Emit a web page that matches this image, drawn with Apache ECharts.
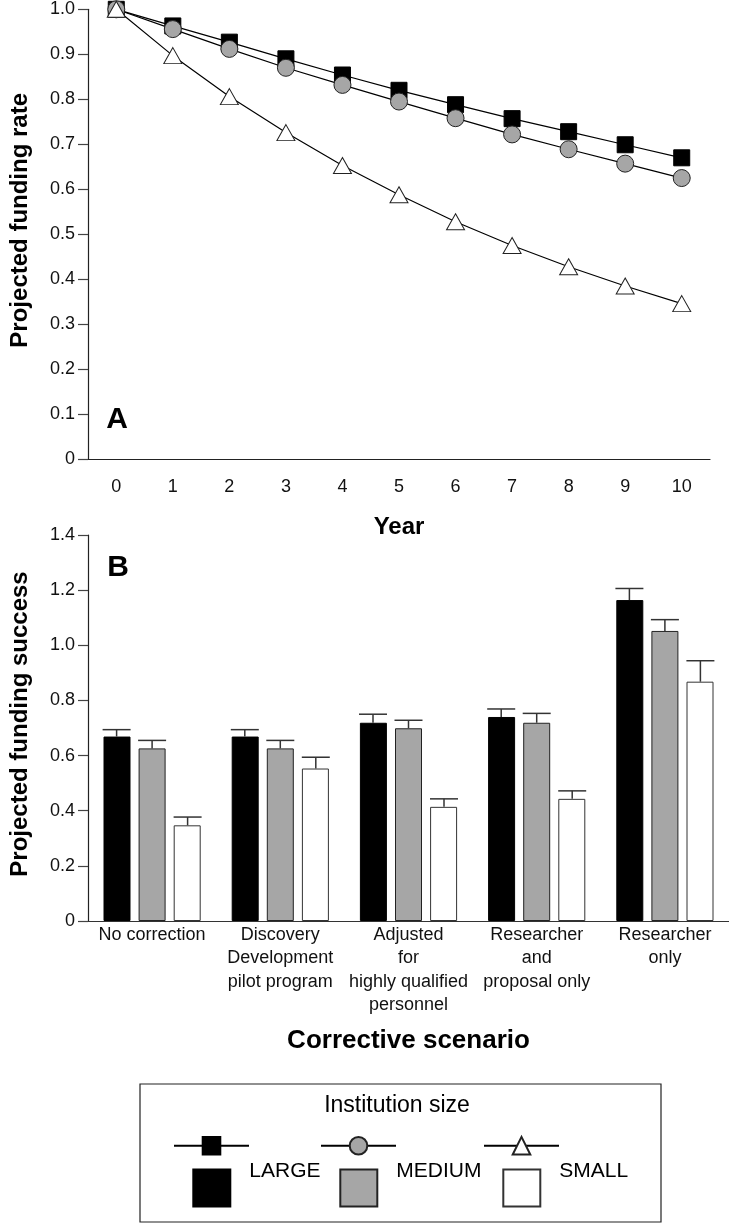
<!DOCTYPE html>
<html>
<head>
<meta charset="utf-8">
<script src="https://cdn.jsdelivr.net/npm/echarts@6/dist/echarts.min.js"></script>
<style>
html,body{margin:0;padding:0;background:#fff;}
#chart{width:729px;height:1225px;}
</style>
</head>
<body>
<div id="chart"></div>
<script>
// ---- Panel A data ----
var years = ['0','1','2','3','4','5','6','7','8','9','10'];
var rateLarge  = [1.0, 0.963, 0.927, 0.890, 0.854, 0.820, 0.788, 0.757, 0.728, 0.699, 0.670];
var rateMedium = [1.0, 0.956, 0.912, 0.870, 0.832, 0.795, 0.758, 0.722, 0.689, 0.657, 0.625];
var rateSmall  = [1.0, 0.897, 0.806, 0.726, 0.653, 0.588, 0.528, 0.475, 0.428, 0.385, 0.346];

// ---- Panel B data ----
var scenarios = ['No correction', 'Discovery\nDevelopment\npilot program', 'Adjusted\nfor\nhighly qualified\npersonnel', 'Researcher\nand\nproposal only', 'Researcher\nonly'];
var successLarge  = [0.669, 0.669, 0.719, 0.740, 1.164];
var successMedium = [0.626, 0.626, 0.699, 0.719, 1.052];
var successSmall  = [0.347, 0.553, 0.414, 0.443, 0.868];
var upperLarge  = [0.694, 0.694, 0.750, 0.769, 1.206];
var upperMedium = [0.655, 0.655, 0.728, 0.753, 1.093];
var upperSmall  = [0.377, 0.594, 0.443, 0.472, 0.944];

var FONT = '"Liberation Sans", Arial, sans-serif';
var BAR_W = 28, BAR_GAP = 7.5;

function fmt(v){ return v === 0 ? '0' : v.toFixed(1); }

function errSeries(name, vals, ups, k) {
  return {
    type: 'custom', name: name, xAxisIndex: 1, yAxisIndex: 1, z: 5,
    encode: {x: 0, y: [1, 2]},
    data: vals.map(function(v, i){ return [i, ups[i], v]; }),
    renderItem: function(params, api) {
      var top = api.coord([api.value(0), api.value(1)]);
      var base = api.coord([api.value(0), api.value(2)]);
      var cx = top[0] + (k - 1) * (BAR_W + BAR_GAP);
      var st = {stroke: '#333', lineWidth: 1.5};
      return {type: 'group', children: [
        {type: 'line', shape: {x1: cx, y1: base[1], x2: cx, y2: top[1]}, style: st},
        {type: 'line', shape: {x1: cx - BAR_W/2, y1: top[1], x2: cx + BAR_W/2, y2: top[1]}, style: st}
      ]};
    }
  };
}

var axisLbl = {fontFamily: FONT, fontSize: 18, color: '#111'};
var nameBold = {fontFamily: FONT, fontSize: 24, fontWeight: 'bold', color: '#000'};

function lineLegend(name, left) {
  return {data: [name], left: left, top: 1134.7, padding: 0, itemWidth: 75, itemHeight: 22,
    selectedMode: false, formatter: function(){ return ''; }, textStyle: {fontSize: 10}};
}
function barLegend(name, left) {
  return {data: [name], left: left, top: 1160.5, padding: 0, itemWidth: 37, itemHeight: 37,
    icon: 'rect', selectedMode: false,
    formatter: function(n){ return '{t|' + n + '}\n{s| }'; },
    textStyle: {fontFamily: FONT, fontSize: 21, color: '#000',
      rich: {
        t: {fontFamily: FONT, fontSize: 21, color: '#000', lineHeight: 24, padding: [0, 0, 0, 14]},
        s: {fontSize: 10, lineHeight: 34}
      }}};
}

var option = {
  animation: false,
  backgroundColor: '#fff',
  grid: [
    {left: 78, right: 19, top: 9.3, height: 450},
    {left: 78, right: 0, top: 535, height: 386}
  ],
  xAxis: [
    {type: 'category', gridIndex: 0, data: years, boundaryGap: true,
      name: 'Year', nameLocation: 'middle', nameGap: 54, nameTextStyle: Object.assign({lineHeight: 28}, nameBold),
      axisLine: {lineStyle: {color: '#222', width: 1.2}},
      axisTick: {alignWithLabel: true, length: 14, lineStyle: {color: '#555', width: 1.5}},
      axisLabel: Object.assign({margin: 19, lineHeight: 17}, axisLbl)},
    {type: 'category', gridIndex: 1, data: scenarios, boundaryGap: true,
      name: 'Corrective scenario', nameLocation: 'middle', nameGap: 105,
      nameTextStyle: {fontFamily: FONT, fontSize: 26, fontWeight: 'bold', color: '#000', lineHeight: 30},
      axisLine: {lineStyle: {color: '#333', width: 1.2}},
      axisTick: {length: 8, lineStyle: {color: '#444', width: 1.2}},
      axisLabel: Object.assign({interval: 0, margin: 2, lineHeight: 23.5, align: 'center'}, axisLbl)}
  ],
  yAxis: [
    {type: 'value', gridIndex: 0, min: 0, max: 1, interval: 0.1,
      name: 'Projected funding rate', nameLocation: 'middle', nameGap: 56,
      nameTextStyle: Object.assign({padding: [0, 0, 0, 28]}, nameBold),
      axisLine: {show: true, lineStyle: {color: '#222', width: 1.2}},
      axisTick: {show: true, length: 10, lineStyle: {color: '#444', width: 1.2}},
      splitLine: {show: false},
      axisLabel: Object.assign({margin: 13, formatter: fmt}, axisLbl)},
    {type: 'value', gridIndex: 1, min: 0, max: 1.4, interval: 0.2,
      name: 'Projected funding success', nameLocation: 'middle', nameGap: 56,
      nameTextStyle: Object.assign({padding: [0, 0, 0, 8]}, nameBold),
      axisLine: {show: true, lineStyle: {color: '#222', width: 1.2}},
      axisTick: {show: true, length: 10, lineStyle: {color: '#444', width: 1.2}},
      splitLine: {show: false},
      axisLabel: Object.assign({margin: 13, formatter: fmt}, axisLbl)}
  ],
  legend: [
    lineLegend('Large institutions', 173),
    lineLegend('Medium institutions', 320),
    lineLegend('Small institutions', 483),
    barLegend('LARGE', 192.3),
    barLegend('MEDIUM', 339.3),
    barLegend('SMALL', 502.3)
  ],
  graphic: [
    {type: 'rect', shape: {x: 140, y: 1084, width: 521, height: 138},
      style: {fill: 'none', stroke: '#222', lineWidth: 1.2}, silent: true},
    {type: 'text', style: {text: 'Institution size', x: 397, y: 1106, textAlign: 'center', textVerticalAlign: 'middle',
      font: '23px ' + FONT, fill: '#000'}},
    {type: 'text', style: {text: 'A', x: 117, y: 420, textAlign: 'center', textVerticalAlign: 'middle',
      font: 'bold 30px ' + FONT, fill: '#000'}},
    {type: 'text', style: {text: 'B', x: 118, y: 568, textAlign: 'center', textVerticalAlign: 'middle',
      font: 'bold 30px ' + FONT, fill: '#000'}}
  ],
  series: [
    {type: 'line', name: 'Large institutions', xAxisIndex: 0, yAxisIndex: 0, data: rateLarge,
      symbol: 'rect', symbolSize: 16, lineStyle: {color: '#000', width: 1.2},
      itemStyle: {color: '#000', borderColor: '#000', borderWidth: 1}},
    {type: 'line', name: 'Medium institutions', xAxisIndex: 0, yAxisIndex: 0, data: rateMedium,
      symbol: 'circle', symbolSize: 17, lineStyle: {color: '#000', width: 1.2},
      itemStyle: {color: '#a6a6a6', borderColor: '#222', borderWidth: 1}},
    {type: 'line', name: 'Small institutions', xAxisIndex: 0, yAxisIndex: 0, data: rateSmall,
      symbol: 'triangle', symbolSize: [18, 16], lineStyle: {color: '#000', width: 1.2},
      itemStyle: {color: '#fff', borderColor: '#222', borderWidth: 1}},
    {type: 'bar', name: 'LARGE', xAxisIndex: 1, yAxisIndex: 1, data: successLarge,
      barWidth: BAR_W - 1, barGap: '30%', itemStyle: {color: '#000', borderColor: '#000', borderWidth: 1}},
    {type: 'bar', name: 'MEDIUM', xAxisIndex: 1, yAxisIndex: 1, data: successMedium,
      barWidth: BAR_W - 1, barGap: '30%', itemStyle: {color: '#a6a6a6', borderColor: '#222', borderWidth: 1}},
    {type: 'bar', name: 'SMALL', xAxisIndex: 1, yAxisIndex: 1, data: successSmall,
      barWidth: BAR_W - 1, barGap: '30%', itemStyle: {color: '#fff', borderColor: '#333', borderWidth: 1}},
    errSeries('err-large', successLarge, upperLarge, 0),
    errSeries('err-medium', successMedium, upperMedium, 1),
    errSeries('err-small', successSmall, upperSmall, 2)
  ]
};

var chart = echarts.init(document.getElementById('chart'), null, {renderer: 'canvas'});
chart.setOption(option);
</script>
</body>
</html>
